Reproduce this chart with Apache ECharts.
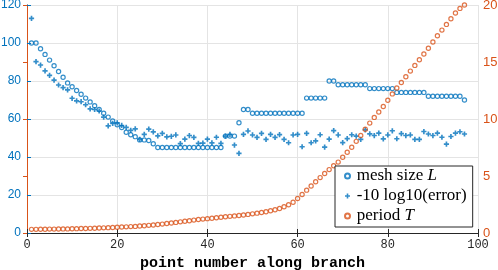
<!DOCTYPE html>
<html>
<head>
<meta charset="utf-8">
<script src="https://cdn.jsdelivr.net/npm/echarts@6/dist/echarts.min.js"></script>
<style>
html,body{margin:0;padding:0;background:#fff;}
#chart{width:498px;height:270px;}
</style>
</head>
<body>
<div id="chart"></div>
<script>
// ---- data ----
var meshSize = [100,100,97,94,91,88,85,82,79,77,75,73,71,69,67,65,63,61,59,57,
  55.5,53,51.7,50.7,49,49,48.7,47,
  45,45,45,45,45,45,45,45,45,45,45,45,45,45,45,
  51,51,51,
  58,
  65,65,
  63,63,63,63,63,63,63,63,63,63,63,63,
  71,71,71,71,71,
  80,80,
  78,78,78,78,78,78,78,
  76,76,76,76,76,76,
  74,74,74,74,74,74,74,
  72,72,72,72,72,72,72,72,
  70];
var errorDb = [113,90.2,88.4,85.3,83,80.5,77.9,76.5,75.3,70.9,
  69.5,69.1,67.5,65.3,65,64.2,61,56.4,57.7,58,
  56.6,55.6,54,54.8,49.3,51.9,54.7,53.2,51.1,52.4,
  50.6,50.9,51.6,47,49.4,51.3,50.3,47.2,47.3,49.4,
  47.4,50.4,47.2,51,51.9,46.3,41.9,51.9,53.7,51.6,
  50.3,52.4,49.3,51.9,50.3,51.8,49.3,47.5,51.6,51.9,
  45.4,52.4,47.5,48.5,51.7,45.2,49.4,53.9,51.6,47.6,
  49.7,51.7,51,49.3,54.3,52.2,51.3,52.6,49.5,51.6,
  53.8,49.6,52.3,51.3,51.6,49.3,49.3,53.4,52.1,51.3,
  52.6,50.4,46.8,50.8,52.6,53.3,52.1];
var periodT = [0.32,0.32,0.33,0.33,0.34,0.34,0.35,0.36,0.36,0.37,
  0.38,0.39,0.40,0.41,0.42,0.44,0.45,0.47,0.48,0.50,
  0.52,0.54,0.56,0.58,0.61,0.64,0.67,0.70,0.74,0.78,
  0.83,0.88,0.93,0.98,1.03,1.08,1.13,1.18,1.22,1.26,
  1.30,1.34,1.38,1.42,1.46,1.50,1.54,1.58,1.63,1.68,
  1.74,1.80,1.87,1.95,2.04,2.15,2.30,2.48,2.70,3.02,
  3.38,3.76,4.12,4.50,4.86,5.22,5.56,5.90,6.22,6.64,
  7.08,7.52,8.04,8.56,9.10,9.64,10.14,10.62,11.10,11.65,
  12.2,12.72,13.2,13.7,14.2,14.7,15.2,15.7,16.2,16.75,
  17.3,17.8,18.3,18.8,19.3,19.7,20.0];
var pointNumber = meshSize.map(function(_, i){ return i + 1; });
var xTicks = [0, 20, 40, 60, 80, 100];
var leftTicks = [0, 20, 40, 60, 80, 100, 120];
var rightTicks = [0, 5, 10, 15, 20];
var seriesNames = ['mesh size L', '-10 log10(error)', 'period T'];

// ---- styling ----
var BLUE = '#0072BD', ORANGE = '#D95319', AX = '#262626', GRID = '#e4e4e4';
var PLUS = 'path://M-1.6,-5H1.6V-1.6H5V1.6H1.6V5H-1.6V1.6H-5V-1.6H-1.6Z';

function pairs(ys){ return ys.map(function(v, i){ return [pointNumber[i], v]; }); }

var chart = echarts.init(document.getElementById('chart'), null, {renderer: 'canvas'});
chart.setOption({
  animation: false,
  backgroundColor: '#fff',
  grid: {left: 27, right: 20, top: 5, bottom: 37, containLabel: false, outerBoundsMode: 'none'},
  xAxis: [{
    type: 'value', min: xTicks[0], max: xTicks[xTicks.length - 1], interval: xTicks[1] - xTicks[0],
    position: 'bottom',
    name: 'point number along branch', nameLocation: 'middle', nameGap: 22,
    nameTextStyle: {fontFamily: 'Liberation Mono', fontWeight: 'bold', fontSize: 15, color: '#000'},
    axisLine: {lineStyle: {color: AX, width: 1}},
    axisTick: {inside: true, length: 4, lineStyle: {color: AX}},
    axisLabel: {fontFamily: 'Liberation Mono', fontSize: 12, color: AX, margin: 6},
    splitLine: {show: true, lineStyle: {color: GRID, width: 1}}
  }, {
    type: 'value', min: xTicks[0], max: xTicks[xTicks.length - 1], interval: xTicks[1] - xTicks[0],
    position: 'top',
    axisLine: {lineStyle: {color: AX, width: 1}},
    axisTick: {inside: true, length: 4, lineStyle: {color: AX}},
    axisLabel: {show: false},
    splitLine: {show: false}
  }],
  yAxis: [{
    type: 'value', min: leftTicks[0], max: leftTicks[leftTicks.length - 1], interval: leftTicks[1] - leftTicks[0],
    position: 'left',
    axisLine: {show: true, lineStyle: {color: BLUE, width: 1}},
    axisTick: {show: true, inside: true, length: 4, lineStyle: {color: BLUE}},
    axisLabel: {fontFamily: 'Liberation Sans', fontSize: 12, color: BLUE, margin: 6},
    splitLine: {show: true, lineStyle: {color: GRID, width: 1}}
  }, {
    type: 'value', min: rightTicks[0], max: rightTicks[rightTicks.length - 1], interval: rightTicks[1] - rightTicks[0],
    position: 'right',
    axisLine: {show: true, lineStyle: {color: ORANGE, width: 1}},
    axisTick: {show: true, inside: true, length: 4, lineStyle: {color: ORANGE}},
    axisLabel: {fontFamily: 'Liberation Sans', fontSize: 13, color: ORANGE, margin: 5},
    splitLine: {show: false}
  }],
  legend: {
    orient: 'vertical', left: 335, top: 166,
    padding: [0, 6, 1, 9],
    itemWidth: 8.4, itemHeight: 5, itemGap: 0,
    backgroundColor: '#fff', borderColor: AX, borderWidth: 1, borderRadius: 0,
    data: seriesNames,
    textStyle: {
      fontFamily: 'Liberation Serif', fontSize: 17, color: '#000', lineHeight: 20,
      rich: {
        n: {fontFamily: 'Liberation Serif', fontSize: 17, color: '#000', lineHeight: 20},
        i: {fontFamily: 'Liberation Serif', fontSize: 17, color: '#000', lineHeight: 20, fontStyle: 'italic'}
      }
    },
    formatter: function(name){
      if (name === seriesNames[0]) return '{n|mesh size }{i|L}';
      if (name === seriesNames[2]) return '{n|period }{i|T}';
      return '{n|' + name + '}';
    }
  },
  series: [{
    name: seriesNames[0], type: 'scatter', xAxisIndex: 0, yAxisIndex: 0,
    data: pairs(meshSize), symbol: 'circle', symbolSize: 4.2,
    itemStyle: {color: 'rgba(255,255,255,0)', borderColor: BLUE, borderWidth: 1.2},
    emphasis: {disabled: true}, z: 3
  }, {
    name: seriesNames[1], type: 'scatter', xAxisIndex: 0, yAxisIndex: 0,
    data: pairs(errorDb), symbol: PLUS, symbolSize: 5.2,
    itemStyle: {color: BLUE},
    emphasis: {disabled: true}, z: 3
  }, {
    name: seriesNames[2], type: 'scatter', xAxisIndex: 0, yAxisIndex: 1,
    data: pairs(periodT), symbol: 'circle', symbolSize: 4.2,
    itemStyle: {color: 'rgba(255,255,255,0)', borderColor: ORANGE, borderWidth: 1.2},
    emphasis: {disabled: true}, z: 3
  }]
});
</script>
</body>
</html>
